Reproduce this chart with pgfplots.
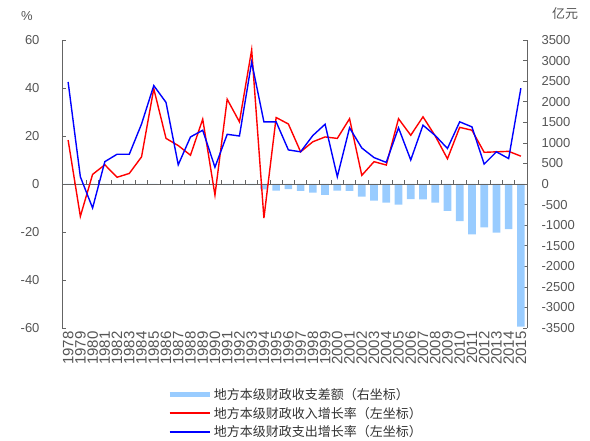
\documentclass[border=0pt]{standalone}
\usepackage{pgfplots}
\usepackage{pgfplotstable}
\pgfplotsset{compat=1.18}
\usepackage{fontspec}
\setmainfont{Liberation Sans}
\newfontfamily\cjk{Noto Sans CJK SC}
\definecolor{barblue}{RGB}{153,204,255}
\definecolor{tickgray}{RGB}{85,85,85}
\definecolor{axgray}{RGB}{100,100,100}

\pgfplotstableread{
i  red   blue  gap
0  18.3  42.5  0
1  -13.5 3.0   0
2  4.0   -10.0 0
3  8.0   9.3   0
4  2.8   12.4  0
5  4.4   12.4  0
6  11.3  25.0  0
7  39.7  41.0  0
8  19.0  34.0  -20
9  16.0  8.0   -25
10 12.0  19.6  -25
11 27.0  22.4  -20
12 -4.6  7.0   -20
13 35.3  20.7  -30
14 25.9  20.0  -10
15 55.9  50.8  -30
16 -14.2 25.9  -130
17 27.7  25.9  -162
18 25.0  14.2  -122
19 13.4  13.4  -170
20 17.6  20.2  -210
21 19.6  24.9  -267
22 19.0  3.0   -162
23 27.2  23.4  -170
24 3.6   15.0  -308
25 9.3   11.0  -405
26 7.9   9.0   -454
27 27.2  23.4  -502
28 20.3  10.0  -365
29 28.0  24.5  -373
30 20.0  20.2  -454
31 10.5  14.8  -656
32 23.6  25.9  -900
33 22.4  23.8  -1223
34 13.2  8.3   -1053
35 13.4  13.4  -1183
36 13.6  10.6  -1094
37 11.6  39.9  -3467
}\data

\begin{document}
\begin{tikzpicture}[x=1pt,y=1pt]
\useasboundingbox (-62,-113) rectangle (528,328);

% bars, right axis
\begin{axis}[
    at={(0,0)}, anchor=south west,
    scale only axis, width=465pt, height=288pt,
    xmin=-0.5, xmax=37.5,
    ymin=-3500, ymax=3500,
    axis x line*=bottom, axis y line*=right,
    x axis line style={draw=none},
    y axis line style={axgray, line width=0.8pt},
    xtick={0,1,...,37},
    xticklabels={1978,1979,1980,1981,1982,1983,1984,1985,1986,1987,1988,1989,1990,1991,1992,1993,1994,1995,1996,1997,1998,1999,2000,2001,2002,2003,2004,2005,2006,2007,2008,2009,2010,2011,2012,2013,2014,2015},
    x tick style={draw=none},
    xticklabel style={rotate=90, anchor=east, font=\fontsize{15}{15}\selectfont, text=tickgray},
    ytick={-3500,-3000,...,3500},
    y tick style={axgray, line width=0.6pt},
    tick align=inside, major tick length=4pt,
    yticklabel style={font=\fontsize{13}{15}\selectfont, text=tickgray, xshift=11pt},
    /pgf/number format/1000 sep={},
    /pgf/number format/assume math mode=true,
]
\addplot[ybar, bar width=7.7pt, fill=barblue, draw=none] table[x=i, y=gap] {\data};
\end{axis}

% lines, left axis
\begin{axis}[
    at={(0,0)}, anchor=south west,
    scale only axis, width=465pt, height=288pt,
    xmin=-0.5, xmax=37.5,
    ymin=-60, ymax=60,
    axis x line*=middle, axis y line*=left,
    axis line style={axgray, line width=0.8pt},
    xtick={-0.5,0.5,...,37.5},
    xticklabels={},
    ytick={-60,-40,...,60},
    tick style={axgray, line width=0.6pt},
    tick align=inside, major tick length=4pt,
    yticklabel style={font=\fontsize{13}{15}\selectfont, text=tickgray, xshift=-19pt},
    /pgf/number format/assume math mode=true,
    legend style={at={(0.22,-0.195)}, anchor=north west, draw=none, fill=none,
        font=\cjk\fontsize{13}{15}\selectfont, text=tickgray!60!black, row sep=2pt},
    legend cell align=left,
    legend image code/.code={\draw[#1] (0pt,0pt) -- (40pt,0pt);},
]
\addplot[red, line width=1.4pt, forget plot] table[x=i, y=red] {\data};
\addplot[blue, line width=1.4pt, forget plot] table[x=i, y=blue] {\data};
\addlegendimage{barblue, line width=4.5pt}
\addlegendentry{地方本级财政收支差额（右坐标）}
\addlegendimage{red, line width=1.8pt}
\addlegendentry{地方本级财政收入增长率（左坐标）}
\addlegendimage{blue, line width=1.8pt}
\addlegendentry{地方本级财政支出增长率（左坐标）}
\end{axis}

\node[font=\fontsize{13}{15}\selectfont, text=tickgray] at (-35,312) {\%};
\node[font=\cjk\fontsize{13}{15}\selectfont, text=tickgray] at (503,314) {亿元};
\end{tikzpicture}
\end{document}
